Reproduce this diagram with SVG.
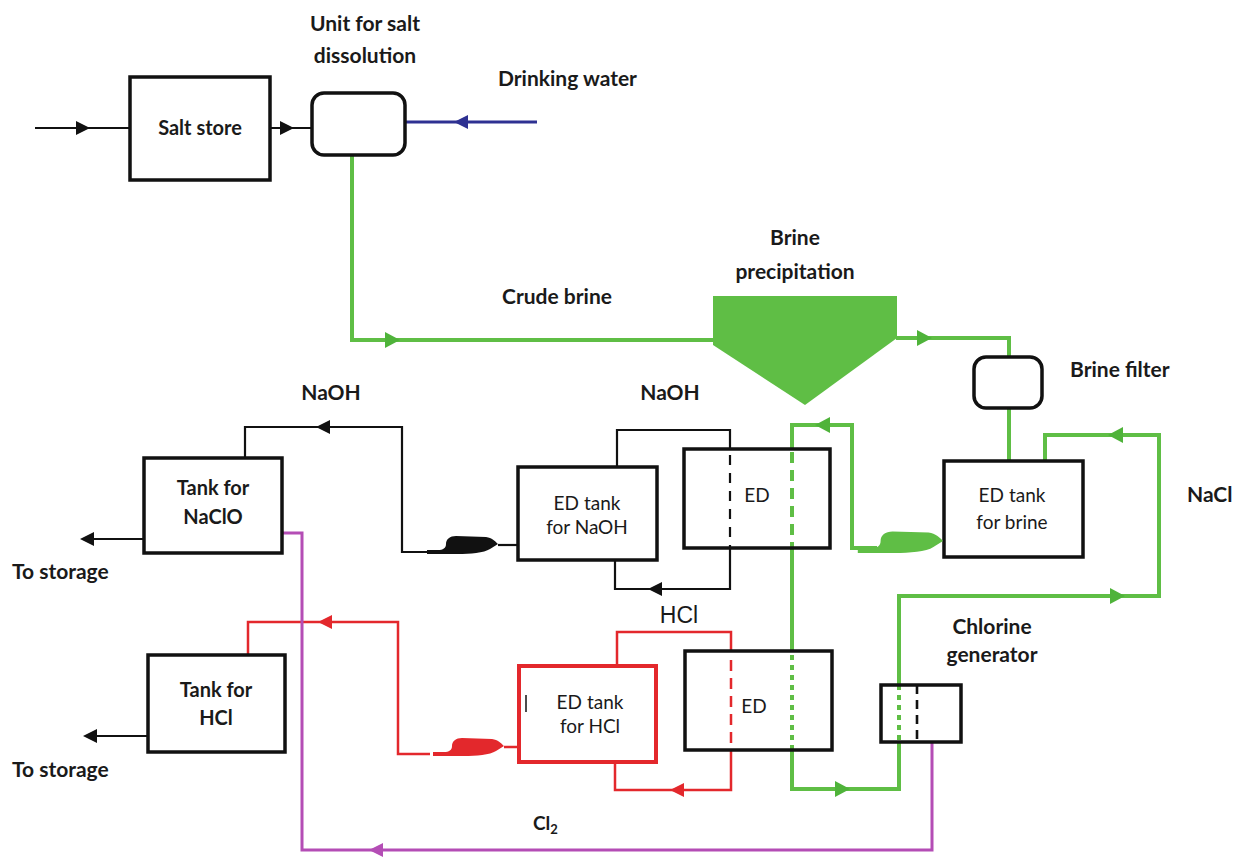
<svg xmlns="http://www.w3.org/2000/svg" xmlns:xlink="http://www.w3.org/1999/xlink" width="1235" height="860" viewBox="0 0 1235 860">
<style>
text{font-family:Lato,"Liberation Sans",sans-serif;fill:#1a1a1a;}
.lb{font-size:21px;font-weight:bold;text-anchor:middle;}
.lbs{font-size:21px;font-weight:bold;text-anchor:start;}
.bx{font-size:20px;font-weight:bold;text-anchor:middle;}
.ed{font-size:19px;font-weight:normal;text-anchor:middle;}
.box{fill:#fff;stroke:#111;stroke-width:3.5;}
.k{fill:none;stroke:#111;stroke-width:2.2;}
.g{fill:none;stroke:#5fbe45;stroke-width:4;}
.r{fill:none;stroke:#e3282c;stroke-width:2.5;}
.m{fill:none;stroke:#b44db5;stroke-width:3;}
.b{fill:none;stroke:#2e3192;stroke-width:3;}
</style>
<defs>
<path id="ah" d="M0,0 L-14,-7 L-14,7 Z"/>
<path id="ahg" d="M0,0 L-15,-8 L-15,8 Z"/>
<path id="pump" d="M0,0 C-3,-3 -6,-6 -12,-7 L-42,-8 C-48,-8 -52,-5 -52,0 C-52,4 -55,6 -60,6 L-71,6 L-71,10 L-40,10 C-28,10 -14,9 -8,5 Z"/>
</defs>
<rect width="1235" height="860" fill="#fff"/>

<g id="connectors">
  <path class="k" d="M35,128 H130"/>
  <use href="#ah" transform="translate(90,128)" fill="#111"/>
  <path class="k" d="M270,128 H312"/>
  <use href="#ah" transform="translate(294,128)" fill="#111"/>
  <path class="b" d="M405,122 H537"/>
  <use href="#ah" transform="translate(454,122) rotate(180)" fill="#2e3192"/>
  <path class="g" d="M352,155 V340 H714"/>
  <use href="#ahg" transform="translate(400,340)" fill="#4fb33a"/>
  <path class="g" d="M896,338 H1009 V357"/>
  <use href="#ahg" transform="translate(932,338)" fill="#4fb33a"/>
  <path class="g" d="M1009,408 V461"/>
  <path class="g" d="M877,548 H852 V425 H792 V449"/>
  <use href="#ahg" transform="translate(815,425) rotate(180)" fill="#4fb33a"/>
  <path class="g" d="M792,452 V548" stroke-dasharray="11 7"/>
  <path class="g" d="M792,548 V652"/>
  <path class="g" d="M792,655 V750" stroke-dasharray="5 5"/>
  <path class="g" d="M792,750 V789 H899 V742"/>
  <use href="#ahg" transform="translate(850,789)" fill="#4fb33a"/>
  <path class="g" d="M899,740 V686" stroke-dasharray="5 5"/>
  <path class="g" d="M899,686 V596 H1159 V435 H1045 V461"/>
  <use href="#ahg" transform="translate(1125,596)" fill="#4fb33a"/>
  <use href="#ahg" transform="translate(1108,435) rotate(180)" fill="#4fb33a"/>
  <path class="k" d="M498,545 H518"/>
  <path class="k" d="M430,552 H402 V427 H245 V458"/>
  <use href="#ah" transform="translate(316,427) rotate(180)" fill="#111"/>
  <path class="k" d="M617,467 V430 H730 V449"/>
  <path class="k" d="M730,455 V548" stroke-width="2.6" stroke-dasharray="10 8"/>
  <path class="k" d="M730,548 V589 H615 V560"/>
  <use href="#ah" transform="translate(648,589) rotate(180)" fill="#111"/>
  <path class="k" d="M144,539 H84"/>
  <use href="#ah" transform="translate(80,539) rotate(180)" fill="#111"/>
  <path class="k" d="M148,736 H87"/>
  <use href="#ah" transform="translate(83,736) rotate(180)" fill="#111"/>
  <path class="r" d="M504,747 H519"/>
  <path class="r" d="M430,754 H398 V622 H248 V655"/>
  <use href="#ah" transform="translate(318,622) rotate(180)" fill="#e3282c"/>
  <path class="r" d="M617,666 V632 H731 V651"/>
  <path class="r" d="M731,660 V750" stroke-width="3" stroke-dasharray="11 7"/>
  <path class="r" d="M731,750 V790 H615 V762"/>
  <use href="#ah" transform="translate(670,790) rotate(180)" fill="#e3282c"/>
  <path class="m" d="M282,533 H302 V850 H932 V742"/>
  <use href="#ah" transform="translate(369,850) rotate(180)" fill="#b44db5"/>
</g>

<g id="salt-store">
  <rect class="box" x="130" y="77" width="140" height="103"/>
  <text class="bx" x="200" y="135">Salt store</text>
</g>
<g id="salt-dissolution">
  <rect class="box" x="312" y="93" width="93" height="62" rx="12"/>
  <text class="lb" x="365" y="31">Unit for salt</text>
  <text class="lb" x="365" y="63">dissolution</text>
</g>
<g id="drinking-water">
  <text class="lbs" x="498" y="86">Drinking water</text>
</g>
<g id="crude-brine">
  <text class="lb" x="557" y="304">Crude brine</text>
</g>
<g id="brine-precipitation">
  <path d="M713,296 H897 V338 L805,405 L713,345 Z" fill="#5fbe45"/>
  <text class="lb" x="795" y="245">Brine</text>
  <text class="lb" x="795" y="279">precipitation</text>
</g>
<g id="brine-filter">
  <rect class="box" x="974" y="357" width="68" height="51" rx="12"/>
  <text class="lbs" x="1070" y="377">Brine filter</text>
</g>
<g id="ed-tank-brine">
  <rect class="box" x="944" y="461" width="139" height="96"/>
  <text class="ed" x="1012" y="502">ED tank</text>
  <text class="ed" x="1012" y="529">for brine</text>
  <use href="#pump" transform="translate(943,541) scale(1.2)" fill="#5fbe45"/>
</g>
<g id="nacl">
  <text class="lbs" x="1187" y="502">NaCl</text>
</g>
<g id="ed-top">
  <rect class="box" x="684" y="449" width="146" height="99" style="fill:none"/>
  <text class="ed" x="757" y="502">ED</text>
</g>
<g id="ed-tank-naoh">
  <rect class="box" x="518" y="467" width="139" height="93"/>
  <text class="ed" x="587" y="510">ED tank</text>
  <text class="ed" x="587" y="534">for NaOH</text>
  <use href="#pump" transform="translate(498,544)" fill="#111"/>
  <text class="lb" x="670" y="400">NaOH</text>
</g>
<g id="tank-naclo">
  <rect class="box" x="144" y="458" width="138" height="95"/>
  <text class="bx" x="213" y="495">Tank for</text>
  <text class="bx" x="213" y="524">NaClO</text>
  <text class="lb" x="331" y="400">NaOH</text>
  <text class="lbs" x="12" y="579">To storage</text>
</g>
<g id="tank-hcl">
  <rect class="box" x="148" y="655" width="137" height="97"/>
  <text class="bx" x="216" y="697">Tank for</text>
  <text class="bx" x="216" y="725">HCl</text>
  <text class="lbs" x="12" y="777">To storage</text>
</g>
<g id="ed-tank-hcl">
  <rect x="519" y="666" width="137" height="96" fill="#fff" stroke="#e3282c" stroke-width="4"/>
  <path d="M526,695 V712" stroke="#111" stroke-width="1.5"/>
  <text class="ed" x="590" y="709">ED tank</text>
  <text class="ed" x="590" y="733">for HCl</text>
  <use href="#pump" transform="translate(504,746)" fill="#e3282c"/>
  <text x="679" y="623" style="font-family:'Liberation Sans',Arial,sans-serif;font-size:23px;text-anchor:middle;">HCl</text>
</g>
<g id="ed-bottom">
  <rect class="box" x="685" y="651" width="147" height="99" style="fill:none"/>
  <text class="ed" x="754" y="713">ED</text>
</g>
<g id="chlorine-generator">
  <rect class="box" x="881" y="685" width="80" height="57" style="fill:none"/>
  <path d="M917,685 V742" stroke="#111" stroke-width="2.6" stroke-dasharray="9 6"/>
  <text class="lb" x="992" y="634">Chlorine</text>
  <text class="lb" x="992" y="662">generator</text>
</g>
<g id="cl2">
  <text class="lbs" x="533" y="830" style="font-size:19px">Cl<tspan font-size="13" dy="4">2</tspan></text>
</g>
</svg>
